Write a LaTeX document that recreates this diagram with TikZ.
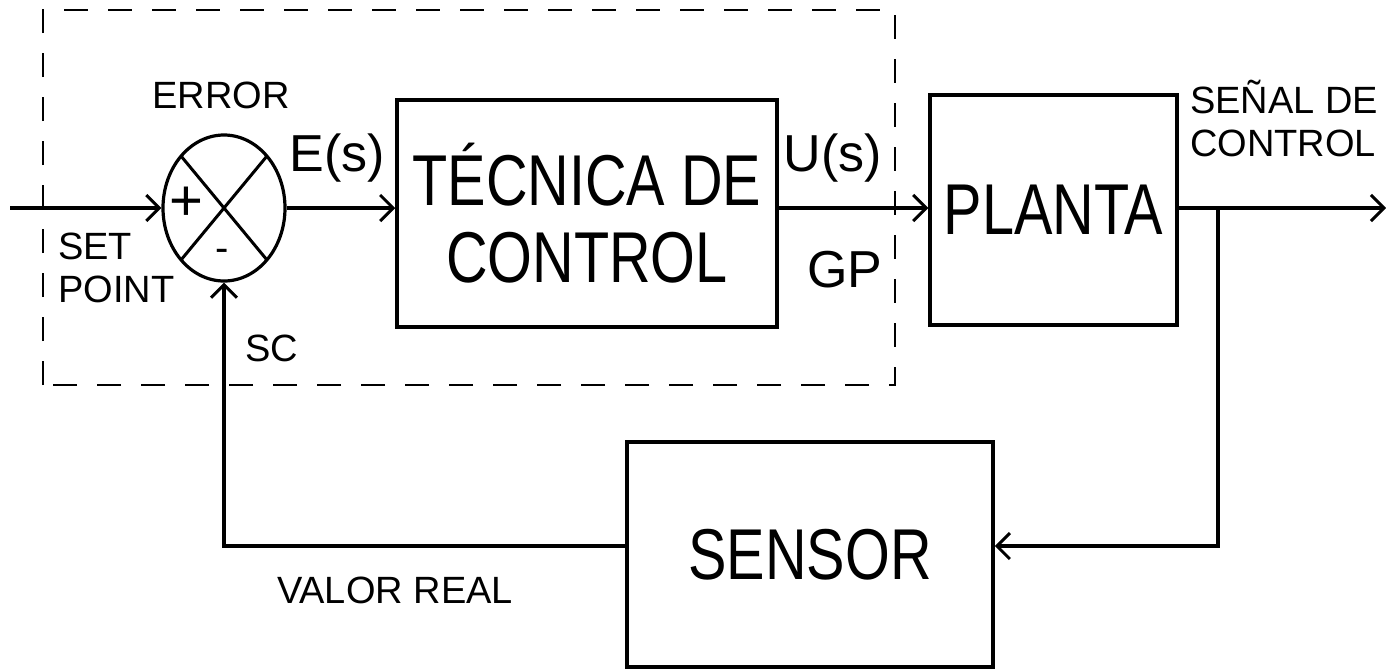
\documentclass[tikz,border=0pt]{standalone}
\usepackage{fontspec}
\setmainfont{Liberation Sans}
\newfontfamily\narrowfont[FakeStretch=0.8]{Liberation Sans}
\usetikzlibrary{arrows.meta,shapes.geometric,calc}
\begin{document}
\begin{tikzpicture}[x=1pt,y=-1pt,
 blk/.style={draw,line width=3.5pt,inner sep=0,font=\narrowfont\fontsize{72}{77}\selectfont,align=center},
 wire/.style={line width=3.5pt},
 arr/.style={wire,-{Straight Barb[length=13pt,width=26pt,line width=3pt]}},
 lbl/.style={inner sep=0,font=\fontsize{38}{43}\selectfont,align=left},
 sig/.style={inner sep=0,font=\fontsize{52}{52}\selectfont}]
\useasboundingbox (0,0) rectangle (1386,670);
\fill[white] (0,0) rectangle (1386,670);
% dashed controller boundary
\draw[line width=2.5pt,dash pattern=on 24pt off 20pt] (43,385) -- (43,10) -- (895,10) -- (895,385) -- cycle;
% summing junction
\node[draw,ellipse,line width=3.2pt,minimum width=122pt,minimum height=146pt,inner sep=0] (sum) at (224,208) {};
\draw[line width=3pt] ($(sum.center)+(-43,-52)$) -- ($(sum.center)+(43,52)$);
\draw[line width=3pt] ($(sum.center)+(43,-52)$) -- ($(sum.center)+(-43,52)$);
\node[inner sep=0,font=\fontsize{58}{58}\selectfont] (plus) at (186,204) {+};
\node[inner sep=0,font=\fontsize{40}{40}\selectfont] (minus) at (222,255) {-};
% blocks
\node[blk,minimum width=380pt,minimum height=227pt] (tec) at (587,213.5) {TÉCNICA DE\\CONTROL};
\node[blk,minimum width=247pt,minimum height=230pt] (plant) at (1053.5,210) {PLANTA};
\node[blk,minimum width=366pt,minimum height=225pt] (sensor) at (810,554.5) {SENSOR};
% connectors
\coordinate (in) at (10,208);
\coordinate (out) at (1386,208);
\coordinate (br) at (1218,208);
\coordinate (fb) at (1218,546);
\draw[arr] (in) -- (sum.west);
\draw[arr] (sum.east) -- (tec.west |- sum.east);
\draw[arr] (tec.east |- sum.east) -- (plant.west |- sum.east);
\draw[arr] (plant.east |- out) -- (out);
\draw[arr] (br) -- (fb) -- (sensor.east |- fb);
\draw[arr] (sensor.west |- fb) -- (sum.south |- fb) -- (sum.south);
% labels
\node[lbl] (err) at (221,95) {ERROR};
\node[lbl,anchor=west] (sp) at (58,268) {SET\\POINT};
\node[lbl,anchor=west] (sc) at (245,348) {SC};
\node[sig] (es) at (337,158) {E(s)};
\node[sig] (us) at (833,158) {U(s)};
\node[sig] (gp) at (845,270) {GP};
\node[lbl,anchor=west] (sdc) at (1190,118) {SEÑAL DE\\CONTROL};
\node[lbl] (vr) at (395,590) {VALOR REAL};
\end{tikzpicture}
\end{document}
